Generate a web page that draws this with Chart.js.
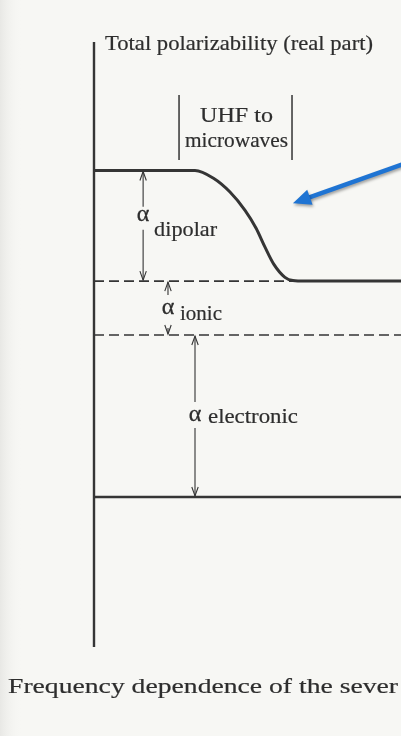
<!DOCTYPE html>
<html>
<head>
<meta charset="utf-8">
<script src="https://cdn.jsdelivr.net/npm/chart.js@4/dist/chart.umd.min.js"></script>
<style>
  html, body { margin: 0; padding: 0; background: #f7f7f4; }
  #wrap { position: relative; width: 401px; height: 736px; }
  #fontprobe { position: absolute; left: -9999px; top: 0; font-family: "Liberation Serif"; font-size: 20px; }
</style>
</head>
<body>
<div id="wrap"><canvas id="c" width="401" height="736"></canvas></div>
<span id="fontprobe">Total polarizability α</span>
<script>
// Frequency (log scale, arbitrary units) and total polarizability (arbitrary units)
const curveFreq  = [0, 3.29, 3.88, 4.43, 4.92, 5.28, 5.57, 5.86, 6.22, 6.48, 6.87, 10];
const curveAlpha = [6.05, 6.05, 5.91, 5.65, 5.31, 4.98, 4.63, 4.31, 4.07, 4.01, 4.0, 4.0];

// Individual contributions, from the top of the stack downwards
const contribNames = ['dipolar', 'ionic', 'electronic'];
const contribSizes = [2.05, 1.0, 3.0];
const contribFreq  = [1.6, 2.41, 3.29];

// Frequency band marked "UHF to microwaves"
const uhfBand = [2.77, 6.45];
const uhfLabel = ['UHF to', 'microwaves'];

// Axis extents
const freqRange  = [0, 10];
const alphaRange = [-2.78, 8.43];

const titleText   = 'Total polarizability (real part)';
const captionText = 'Frequency dependence of the sever';

// cumulative levels: bottom and top of each contribution
const levels = {};
(function () {
  let base = 0;
  for (let i = contribNames.length - 1; i >= 0; i--) {
    levels[contribNames[i]] = [base, base + contribSizes[i]];
    base += contribSizes[i];
  }
})();

const INK = '#353535';
const TEXT_INK = '#2e2e2e';
const SERIF = '"Liberation Serif", "DejaVu Serif", serif';

function fitText(ctx, text, x, y, size, width, align) {
  ctx.font = size + 'px ' + SERIF;
  const w = ctx.measureText(text).width;
  const sx = width / w;
  ctx.save();
  let left = x;
  if (align === 'center') left = x - width / 2;
  ctx.translate(left, y);
  ctx.scale(sx, 1);
  ctx.textAlign = 'left';
  ctx.textBaseline = 'alphabetic';
  ctx.fillStyle = TEXT_INK;
  ctx.strokeStyle = TEXT_INK;
  ctx.lineWidth = 0.2;
  ctx.fillText(text, 0, 0);
  ctx.strokeText(text, 0, 0);
  ctx.restore();
}

function openHead(ctx, x, y, dir) {
  // dir = -1 points up, +1 points down
  ctx.beginPath();
  ctx.moveTo(x - 3.2, y - dir * 9);
  ctx.lineTo(x, y);
  ctx.lineTo(x + 3.2, y - dir * 9);
  ctx.stroke();
}

// label placement around the middle of each dimension arrow (pixels)
const labelLayout = {
  dipolar:    { alphaDy: -11, baseDy: 10, gap: [-19, 4],  wordDx: 11, wordW: 63 },
  ionic:      { alphaDy: 0,   baseDy: 12, gap: [-13, 20], wordDx: 12, wordW: 42 },
  electronic: { alphaDy: -1,  baseDy: 7,  gap: [-14, 12], wordDx: 13, wordW: 90 }
};

const annotations = {
  id: 'annotations',
  beforeDraw(chart) {
    const ctx = chart.ctx;
    ctx.save();
    ctx.fillStyle = '#f7f7f4';
    ctx.fillRect(0, 0, chart.width, chart.height);
    const g = ctx.createLinearGradient(0, 0, 22, 0);
    g.addColorStop(0, 'rgba(228,228,225,0.8)');
    g.addColorStop(1, 'rgba(247,247,244,0)');
    ctx.fillStyle = g;
    ctx.fillRect(0, 0, 22, chart.height);
    ctx.restore();
  },
  afterDatasetsDraw(chart) {
    const ctx = chart.ctx;
    const xs = chart.scales.x, ys = chart.scales.y;
    const area = chart.chartArea;
    ctx.save();
    ctx.strokeStyle = INK;
    ctx.fillStyle = INK;

    // vertical polarizability axis
    const x0 = xs.getPixelForValue(freqRange[0]);
    ctx.lineWidth = 2.4;
    ctx.beginPath();
    ctx.moveTo(x0, area.top);
    ctx.lineTo(x0, area.bottom);
    ctx.stroke();

    // title
    fitText(ctx, titleText, 105, 50, 21, 268, 'left');

    // UHF band brackets
    const bx1 = xs.getPixelForValue(uhfBand[0]);
    const bx2 = xs.getPixelForValue(uhfBand[1]);
    ctx.strokeStyle = INK;
    ctx.lineWidth = 1.5;
    ctx.beginPath();
    ctx.moveTo(bx1, 95); ctx.lineTo(bx1, 160);
    ctx.moveTo(bx2, 95); ctx.lineTo(bx2, 160);
    ctx.stroke();
    const bmid = (bx1 + bx2) / 2 + 1;
    fitText(ctx, uhfLabel[0], bmid, 122, 21, 73, 'center');
    fitText(ctx, uhfLabel[1], bmid, 147, 21, 103, 'center');

    // dimension arrows with alpha labels
    contribNames.forEach((name, i) => {
      const [lo, hi] = levels[name];
      const ax = xs.getPixelForValue(contribFreq[i]);
      const yTop = ys.getPixelForValue(hi);
      const yBot = ys.getPixelForValue(lo);
      const mid = (yTop + yBot) / 2;
      const L = labelLayout[name];
      ctx.strokeStyle = INK;
      ctx.lineWidth = 1.1;
      ctx.beginPath();
      ctx.moveTo(ax, yTop + 1);
      ctx.lineTo(ax, mid + L.gap[0]);
      ctx.moveTo(ax, mid + L.gap[1]);
      ctx.lineTo(ax, yBot - 1);
      ctx.stroke();
      openHead(ctx, ax, yTop + 1, -1);
      openHead(ctx, ax, yBot - 1, 1);

      ctx.font = '24px ' + SERIF;
      ctx.textAlign = 'center';
      ctx.textBaseline = 'middle';
      ctx.fillStyle = TEXT_INK;
      ctx.strokeStyle = TEXT_INK;
      ctx.lineWidth = 0.3;
      ctx.fillText('\u03B1', ax, mid + L.alphaDy);
      ctx.strokeText('\u03B1', ax, mid + L.alphaDy);
      fitText(ctx, name, ax + L.wordDx, mid + L.baseDy, 21, L.wordW, 'left');
    });

    // caption
    fitText(ctx, captionText, 8, 693, 22, 390, 'left');

    // blue pointer arrow onto the dispersion step
    const tipX = xs.getPixelForValue(6.48), tipY = ys.getPixelForValue(5.44);
    const tailX = 406, tailY = 163;
    const dx = tipX - tailX, dy = tipY - tailY;
    const len = Math.hypot(dx, dy);
    const ux = dx / len, uy = dy / len;
    const headLen = 18, headHalf = 8;
    const bx = tipX - ux * headLen, by = tipY - uy * headLen;
    ctx.shadowColor = 'rgba(0,0,0,0.35)';
    ctx.shadowBlur = 3;
    ctx.shadowOffsetX = 1;
    ctx.shadowOffsetY = 2;
    ctx.strokeStyle = '#1f74d3';
    ctx.fillStyle = '#1f74d3';
    ctx.lineWidth = 4.5;
    ctx.beginPath();
    ctx.moveTo(tailX, tailY);
    ctx.lineTo(bx + ux * 2, by + uy * 2);
    ctx.stroke();
    ctx.beginPath();
    ctx.moveTo(tipX, tipY);
    ctx.lineTo(bx - uy * headHalf, by + ux * headHalf);
    ctx.lineTo(bx + uy * headHalf, by - ux * headHalf);
    ctx.closePath();
    ctx.fill();
    ctx.restore();
  }
};

const lvlIonicTop = levels.ionic[1];
const lvlElecTop = levels.electronic[1];
const lvlBase = levels.electronic[0];

function build() {
  new Chart(document.getElementById('c'), {
    type: 'line',
    data: {
      datasets: [
        {
          label: 'total',
          data: curveFreq.map((f, i) => ({ x: f, y: curveAlpha[i] })),
          borderColor: INK,
          borderWidth: 3,
          pointRadius: 0,
          cubicInterpolationMode: 'monotone',
          fill: false
        },
        {
          label: 'ionic level',
          data: [{ x: freqRange[0], y: lvlIonicTop }, { x: freqRange[1], y: lvlIonicTop }],
          borderColor: INK,
          borderWidth: 1.6,
          borderDash: [10, 5],
          pointRadius: 0
        },
        {
          label: 'electronic level',
          data: [{ x: freqRange[0], y: lvlElecTop }, { x: freqRange[1], y: lvlElecTop }],
          borderColor: INK,
          borderWidth: 1.6,
          borderDash: [10, 5],
          pointRadius: 0
        },
        {
          label: 'baseline',
          data: [{ x: freqRange[0], y: lvlBase }, { x: freqRange[1], y: lvlBase }],
          borderColor: INK,
          borderWidth: 2.4,
          pointRadius: 0
        }
      ]
    },
    options: {
      responsive: false,
      animation: false,
      events: [],
      layout: { padding: { left: 94, right: 0, top: 42, bottom: 89 } },
      plugins: { legend: { display: false }, tooltip: { enabled: false } },
      scales: {
        x: { type: 'linear', min: freqRange[0], max: freqRange[1], display: false },
        y: { type: 'linear', min: alphaRange[0], max: alphaRange[1], display: false }
      }
    },
    plugins: [annotations]
  });
}

Promise.all([
  document.fonts.load('20px "Liberation Serif"'),
  document.fonts.load('20px "DejaVu Serif"')
]).catch(() => {}).then(build);
</script>
</body>
</html>
